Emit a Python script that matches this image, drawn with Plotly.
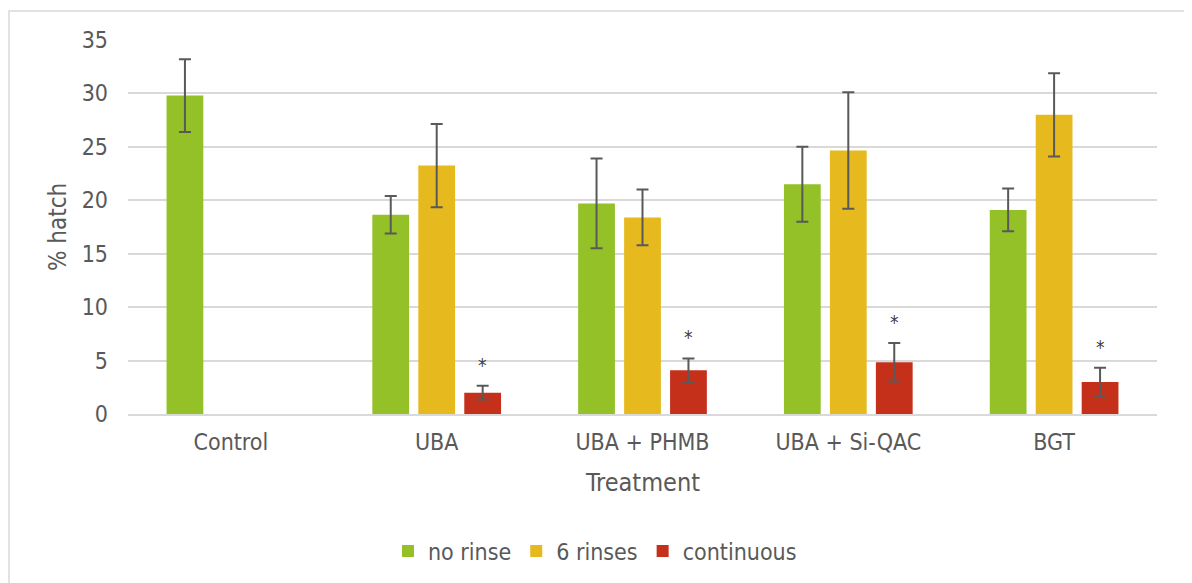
import plotly.graph_objects as go

categories = ["Control", "UBA", "UBA + PHMB", "UBA + Si-QAC", "BGT"]
no_rinse = [29.8, 18.65, 19.7, 21.5, 19.1]
no_rinse_err = [3.4, 1.75, 4.2, 3.5, 2.0]
six_rinses = [None, 23.25, 18.4, 24.65, 28.0]
six_rinses_err = [None, 3.9, 2.6, 5.45, 3.9]
continuous = [None, 2.0, 4.1, 4.85, 3.0]
continuous_err = [None, 0.65, 1.1, 1.8, 1.33]
significant = [False, True, True, True, True]

FONT = "DejaVu Sans Condensed, DejaVu Sans, sans-serif"
TXT = "#595959"
OFF = 8  # page body margin
W, H = 1192 - OFF, 583 - OFF
ML, MR, MT, MB = 120, 35, 32, 168
BARGAP = 0.33
plot_w = W - ML - MR
plot_h = H - MT - MB


def px_x(sx):
    return (sx - OFF - ML) / plot_w


def px_y(sy):
    return ((H - MB) - (sy - OFF)) / plot_h


fig = go.Figure()
series = [
    ("no rinse", no_rinse, no_rinse_err, "#93C127"),
    ("6 rinses", six_rinses, six_rinses_err, "#E6B91E"),
    ("continuous", continuous, continuous_err, "#C4301A"),
]
for name, vals, errs, col in series:
    fig.add_trace(go.Bar(
        name=name, x=categories, y=vals, marker_color=col,
        marker_line_width=0,
        error_y=dict(type="data", array=errs, visible=True,
                     color="#595959", thickness=2, width=6),
    ))

slot = plot_w / len(categories) * (1 - BARGAP) / 3
for c, v, e, s in zip(categories, continuous, continuous_err, significant):
    if s:
        fig.add_annotation(x=c, y=v + e, xref="x", yref="y", text="*",
                           showarrow=False, xshift=slot, yanchor="bottom",
                           yshift=8, font=dict(family=FONT, size=19, color="#404040"))

fig.add_annotation(text="% hatch", xref="paper", yref="paper",
                   x=px_x(58), y=0.5, xanchor="center", yanchor="middle",
                   textangle=-90, showarrow=False,
                   font=dict(family=FONT, size=24, color=TXT))
fig.add_annotation(text="Treatment", xref="paper", yref="paper",
                   x=0.5, y=px_y(484), xanchor="center", yanchor="middle",
                   showarrow=False, font=dict(family=FONT, size=25, color=TXT))

fig.add_shape(type="rect", xref="paper", yref="paper",
              x0=px_x(9), x1=px_x(1187), y0=px_y(600), y1=px_y(11),
              line=dict(color="#d9d9d9", width=1.5), layer="below")

fig.update_layout(
    width=W, height=H,
    margin=dict(l=ML, r=MR, t=MT, b=MB),
    paper_bgcolor="white", plot_bgcolor="white",
    barmode="group", bargap=BARGAP, bargroupgap=0.2,
    font=dict(family=FONT, size=23, color=TXT),
    showlegend=True,
    legend=dict(orientation="h", x=px_x(595), xanchor="center",
                y=px_y(551), yanchor="middle",
                font=dict(family=FONT, size=23, color=TXT),
                itemwidth=30),
    xaxis=dict(showgrid=False, showline=True, linecolor="#d9d9d9", linewidth=1.5,
               ticks="", tickfont=dict(size=23, color=TXT), ticklabelstandoff=7,
               fixedrange=True),
    yaxis=dict(range=[0, 35], dtick=5, showgrid=True, gridcolor="#d9d9d9",
               gridwidth=1.5, zeroline=False, showline=False,
               tickfont=dict(size=23, color=TXT), ticklabelstandoff=19,
               fixedrange=True),
)

fig.write_html("out.html")
